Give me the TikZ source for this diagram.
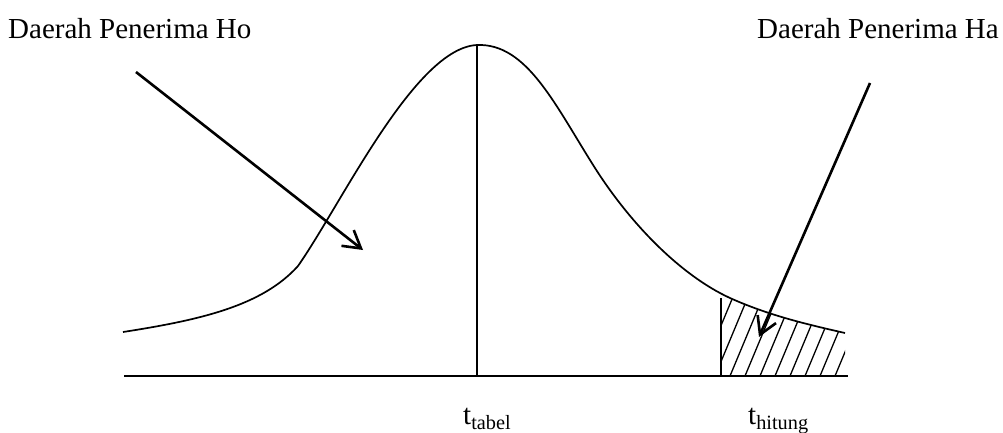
\documentclass[tikz,border=0pt]{standalone}
\usepackage{fontspec}
\setmainfont{Liberation Serif}
\usetikzlibrary{arrows.meta}
\tikzset{
  lbl/.style={inner sep=0pt, anchor=base west, font=\fontsize{29}{34}\selectfont},
  thinline/.style={line width=1.7pt},
  axisline/.style={line width=2.4pt},
  pointer/.style={line width=2.6pt, -{Straight Barb[length=17pt, width=20pt, line width=2.6pt]}},
  hatch/.style={line width=1.3pt}
}
\newcommand{\bellcurve}{(123,332) .. controls (200,320) and (262,306) .. (298,266)
  .. controls (342,203) and (415,48) .. (477,45)
  .. controls (527,43) and (555,105) .. (595,168)
  .. controls (630,223) and (680,275) .. (730,298)
  .. controls (770,316) and (810,325) .. (845,333)}
\begin{document}
\begin{tikzpicture}[x=1pt, y=-1pt]
\useasboundingbox (0,0) rectangle (1003,432);
% labels
\node[lbl] (ho) at (8,38) {Daerah Penerima Ho};
\node[lbl] (ha) at (757,38) {Daerah Penerima Ha};
\node[lbl] (ttab) at (463,424) {t\textsubscript{tabel}};
\node[lbl] (thit) at (748,424) {t\textsubscript{hitung}};
% hatched region
\begin{scope}
\clip (721,0) rectangle (845,376);
\clip \bellcurve -- (845,376) -- (123,376) -- cycle;
\foreach \x in {700,715,...,880}
  \draw[hatch] (\x,376) -- ++(45,-108);
\end{scope}
\draw[thinline] (721,298) -- (721,376);
% curve
\draw[thinline] \bellcurve;
% axis and centre line
\coordinate (a0) at (124,376);
\coordinate (a1) at (848,376);
\coordinate (top) at (477,45);
\coordinate (mid) at (477,376);
\draw[axisline] (a0) -- (a1);
\draw[thinline] (top) -- (mid);
% pointers
\coordinate (p1s) at (136,72);
\coordinate (p1e) at (363,250);
\coordinate (p2s) at (870,83);
\coordinate (p2e) at (759,337);
\draw[pointer] (p1s) -- (p1e);
\draw[pointer] (p2s) -- (p2e);
\end{tikzpicture}
\end{document}
